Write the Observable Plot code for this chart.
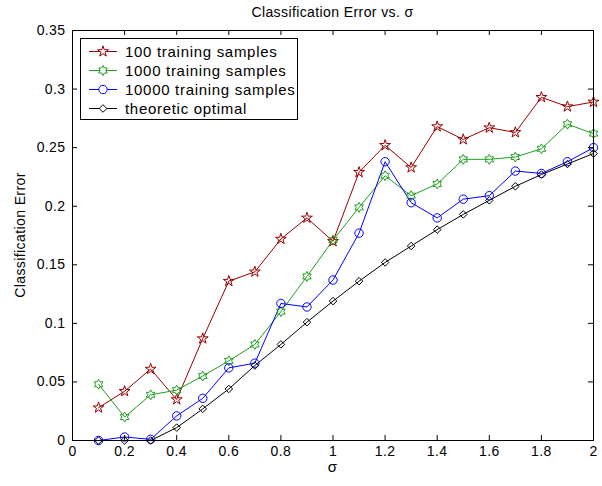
<!DOCTYPE html>
<html>
<head>
<meta charset="utf-8">
<script src="https://cdn.jsdelivr.net/npm/d3@7"></script>
<script src="https://cdn.jsdelivr.net/npm/@observablehq/plot@0.6"></script>
<style>
  body { margin: 0; background: #fff; }
  #wrap { position: relative; width: 602px; height: 486px; font-family: "Liberation Sans", Arial, sans-serif; }
  #legend { position: absolute; left: 80px; top: 38px; width: 218px; height: 82px; border: 1px solid #000; background: #fff; box-sizing: border-box; }
  .row { position: absolute; left: 0; height: 19px; display: flex; align-items: center; font-size: 15px; letter-spacing: 0.7px; color: #000; white-space: nowrap; }
  .row svg { margin-left: 8px; margin-right: 8px; }
</style>
</head>
<body>
<div id="wrap"></div>
<script>
const sigma = [0.1,0.2,0.3,0.4,0.5,0.6,0.7,0.8,0.9,1.0,1.1,1.2,1.3,1.4,1.5,1.6,1.7,1.8,1.9,2.0];
const err100   = [0.028,0.042,0.061,0.035,0.087,0.136,0.144,0.172,0.190,0.170,0.229,0.252,0.233,0.268,0.257,0.267,0.263,0.293,0.285,0.289];
const err1000  = [0.048,0.020,0.039,0.043,0.055,0.068,0.082,0.110,0.140,0.171,0.199,0.226,0.209,0.219,0.240,0.240,0.242,0.249,0.270,0.262];
const err10000 = [0.000,0.003,0.001,0.021,0.036,0.062,0.066,0.117,0.114,0.137,0.177,0.238,0.203,0.190,0.206,0.209,0.230,0.228,0.238,0.250];
const errOpt   = [0.000,0.000,0.000,0.011,0.027,0.044,0.064,0.082,0.101,0.119,0.136,0.152,0.166,0.180,0.193,0.205,0.217,0.227,0.236,0.245];
const seriesNames = ["100 training samples","1000 training samples","10000 training samples","theoretic optimal"];
const xTicks = [0,0.2,0.4,0.6,0.8,1,1.2,1.4,1.6,1.8,2];
const yTicks = [0,0.05,0.1,0.15,0.2,0.25,0.3,0.35];

const hexagram = {
  draw(ctx, size) {
    const R = Math.sqrt(size / Math.PI) * 1.15, r = R / Math.sqrt(3);
    for (let i = 0; i < 12; i++) {
      const a = -Math.PI / 2 + i * Math.PI / 6, rr = i % 2 ? r : R;
      const x = rr * Math.cos(a), y = rr * Math.sin(a);
      i ? ctx.lineTo(x, y) : ctx.moveTo(x, y);
    }
    ctx.closePath();
  }
};
const styles = [
  {color: "#990000", symbol: d3.symbolStar, r: 3.4},
  {color: "#1f9f1f", symbol: hexagram, r: 4.3},
  {color: "#0000ff", symbol: d3.symbolCircle, r: 4.2},
  {color: "#000000", symbol: d3.symbolDiamond2, r: 3.4}
];
const allSeries = [err100, err1000, err10000, errOpt];
const tables = allSeries.map(vals => sigma.map((s, i) => ({x: s, y: vals[i]})));

const W = 602, H = 486, mL = 72, mR = 9, mT = 30, mB = 46;
const innerH = H - mT - mB, innerW = W - mL - mR;
const tickLen = 5;

const marks = [];
tables.forEach((t, k) => {
  const st = styles[k];
  marks.push(Plot.line(t, {x: "x", y: "y", stroke: st.color, strokeWidth: 1}));
});
tables.forEach((t, k) => {
  const st = styles[k];
  marks.push(Plot.dot(t, {x: "x", y: "y", stroke: st.color, fill: "none", symbol: st.symbol, r: st.r, strokeWidth: 1}));
});
const fmt = d => String(d);
marks.push(
  Plot.tickX(xTicks, {x: d => d, insetTop: innerH - tickLen, stroke: "#000"}),
  Plot.tickX(xTicks, {x: d => d, insetBottom: innerH - tickLen, stroke: "#000"}),
  Plot.tickY(yTicks, {y: d => d, insetRight: innerW - tickLen, stroke: "#000"}),
  Plot.tickY(yTicks, {y: d => d, insetLeft: innerW - tickLen, stroke: "#000"}),
  Plot.frame({stroke: "#000"}),
  Plot.axisX({ticks: xTicks, tickSize: 0, tickPadding: 6, fontSize: 14, tickFormat: fmt, label: null}),
  Plot.axisY({ticks: yTicks, tickSize: 0, tickPadding: 7, fontSize: 14, tickFormat: fmt, label: null})
);

const chart = Plot.plot({
  width: W, height: H,
  marginLeft: mL, marginRight: mR, marginTop: mT, marginBottom: mB,
  x: {domain: [0, 2]},
  y: {domain: [0, 0.35]},
  style: {fontFamily: "'Liberation Sans', Arial, sans-serif", fontSize: "14px", color: "#000", background: "#fff", overflow: "visible", letterSpacing: "0.4px"},
  marks
});

const svg = d3.select(chart);
svg.append("text").attr("x", mL + innerW / 2).attr("y", 17).attr("text-anchor", "middle")
  .style("font-size", "14px").attr("fill", "#000").text("Classification Error vs. σ");
svg.append("text").attr("x", mL + innerW / 2).attr("y", 472).attr("text-anchor", "middle")
  .style("font-size", "15px").attr("fill", "#000").text("σ");
svg.append("text").attr("transform", `translate(25,${mT + innerH / 2}) rotate(-90)`).attr("text-anchor", "middle")
  .style("font-size", "14px").attr("fill", "#000").text("Classification Error");

const wrap = document.getElementById("wrap");
wrap.appendChild(chart);

const legend = document.createElement("div");
legend.id = "legend";
seriesNames.forEach((name, k) => {
  const st = styles[k];
  const row = document.createElement("div");
  row.className = "row";
  row.style.top = (2.5 + k * 19.3) + "px";
  const s = d3.create("svg").attr("width", 28).attr("height", 19);
  s.append("line").attr("x1", 0).attr("x2", 28).attr("y1", 9.5).attr("y2", 9.5).attr("stroke", st.color);
  s.append("path").attr("transform", "translate(14,9.5)")
    .attr("d", d3.symbol(st.symbol, st.r * st.r * Math.PI)())
    .attr("fill", "#fff").attr("stroke", st.color);
  row.appendChild(s.node());
  const span = document.createElement("span");
  span.textContent = name;
  row.appendChild(span);
  legend.appendChild(row);
});
wrap.appendChild(legend);
</script>
</body>
</html>
